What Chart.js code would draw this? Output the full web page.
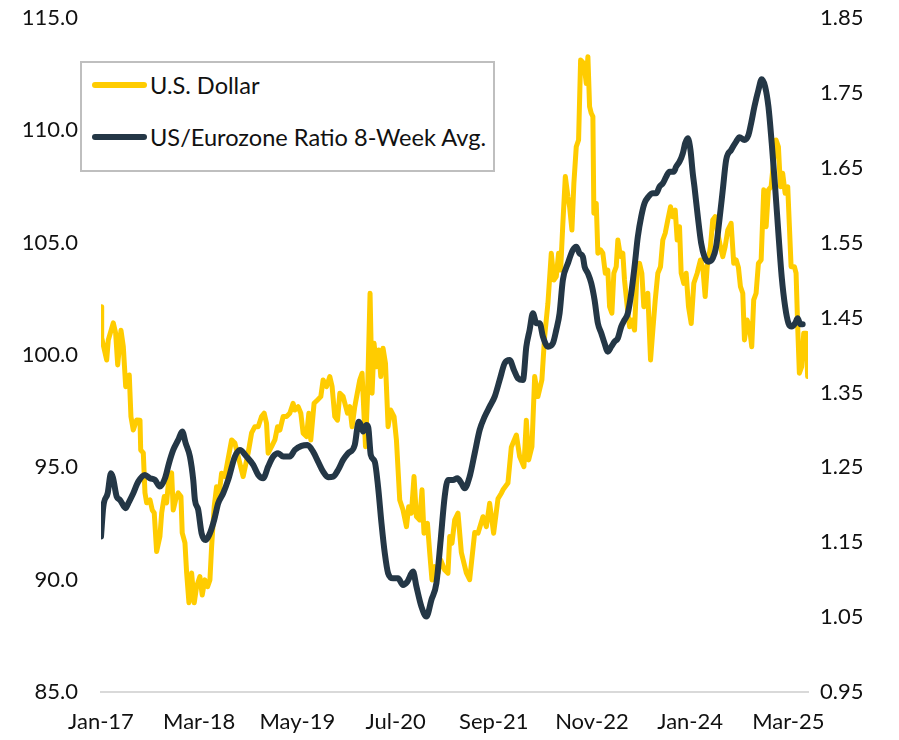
<!DOCTYPE html>
<html><head><meta charset="utf-8">
<script src="https://cdn.jsdelivr.net/npm/chart.js@4.4.1/dist/chart.umd.min.js"></script>
<style>
html,body{margin:0;padding:0;background:#fff;}
#wrap{position:relative;width:899px;height:740px;}
#legend{position:absolute;left:80px;top:61px;width:415px;height:111px;box-sizing:border-box;border:2px solid #bfbfbf;background:#fff;font-family:Lato,sans-serif;font-size:23.6px;color:#111;}
.item{position:absolute;left:10px;height:30px;line-height:30px;display:flex;align-items:center;white-space:nowrap;}
.swatch{width:55px;height:6px;border-radius:3px;margin-right:3px;}
</style></head><body>
<div id="wrap"><canvas id="c" width="899" height="740"></canvas><div id="legend"></div></div>
<script>
// x values are months since Jan 2017
const tickMonths = [0, 14, 28, 42, 56, 70, 84, 98];
const tickLabels = ['Jan-17', 'Mar-18', 'May-19', 'Jul-20', 'Sep-21', 'Nov-22', 'Jan-24', 'Mar-25'];
const leftTicks = [85, 90, 95, 100, 105, 110, 115];
const rightTicks = [0.95, 1.05, 1.15, 1.25, 1.35, 1.45, 1.55, 1.65, 1.75, 1.85];
const seriesNames = ['U.S. Dollar', 'US/Eurozone Ratio 8-Week Avg.'];

const usdMonth = [0.00,0.10,0.81,1.04,1.75,2.09,2.38,2.85,3.18,3.52,4.03,4.27,4.60,5.09,5.56,5.66,6.03,6.27,6.51,6.98,7.31,7.59,7.93,8.40,8.65,9.02,9.36,9.69,10.07,10.30,10.64,11.01,11.40,11.58,11.97,12.21,12.54,12.92,13.29,13.63,14.10,14.43,14.81,15.20,15.53,15.77,16.14,16.48,16.81,17.19,17.66,18.62,19.09,19.56,20.27,20.98,21.47,21.94,22.41,22.89,23.26,23.60,23.83,24.32,24.79,25.17,25.50,25.97,26.45,26.92,27.39,27.64,28.11,28.49,28.82,29.30,29.63,29.91,30.38,30.87,31.34,31.67,32.15,32.62,32.95,33.33,33.72,34.05,34.52,35.14,35.47,35.80,36.18,36.89,37.22,37.71,37.99,38.36,38.65,38.93,39.27,39.60,39.89,40.21,40.56,40.93,41.31,41.78,42.12,42.59,43.06,43.55,43.87,44.26,44.63,44.97,45.44,45.77,46.05,46.54,46.87,47.19,47.58,48.05,48.43,49.00,49.47,49.72,50.04,50.43,50.90,51.38,52.09,52.56,53.28,53.75,54.46,54.94,55.41,55.98,56.60,57.08,57.31,58.02,58.50,58.73,59.22,59.69,60.30,60.64,60.97,61.44,61.83,62.29,62.86,63.25,63.72,64.20,64.57,64.91,65.24,65.53,65.85,66.20,66.57,66.81,67.14,67.42,67.76,68.09,68.38,68.85,69.19,69.42,69.66,69.90,70.13,70.27,70.61,70.84,71.23,71.55,71.90,72.26,72.51,72.84,73.12,73.46,73.69,74.07,74.40,74.64,75.03,75.36,75.68,76.07,76.45,76.78,77.11,77.39,77.68,77.96,78.35,78.68,79.02,79.39,79.77,80.10,80.44,80.81,81.20,81.52,81.87,82.15,82.48,82.72,83.09,83.43,83.76,84.15,84.52,85.00,85.47,85.80,86.14,86.43,86.89,87.22,87.56,87.93,88.32,88.65,88.99,89.36,89.84,90.21,90.56,90.88,91.17,91.50,91.74,92.12,92.45,92.78,93.06,93.40,93.73,94.12,94.49,94.83,95.16,95.54,95.91,96.25,96.58,96.87,97.19,97.54,97.91,98.15,98.39,98.86,99.10,99.33,99.57,99.90,100.19,100.53,100.75];
const usdValue = [102.15,100.76,99.78,100.67,101.43,100.98,99.56,101.10,100.37,98.59,99.11,97.26,96.66,97.11,97.10,95.77,95.64,93.86,93.42,93.55,93.10,92.97,91.25,91.92,92.97,93.70,93.42,94.59,94.75,93.10,93.55,93.86,93.70,92.08,91.64,90.30,88.97,90.30,88.97,89.69,90.14,89.32,89.99,89.69,89.99,91.47,93.25,94.14,93.70,94.74,94.59,96.22,96.08,95.48,94.59,95.64,96.53,96.81,96.81,97.26,97.41,96.96,95.63,95.92,96.22,96.81,96.66,97.26,97.26,97.41,97.85,97.55,97.70,97.41,96.52,96.37,97.41,96.22,97.85,98.00,98.15,98.89,98.59,99.04,98.59,97.26,97.10,98.30,98.15,97.41,97.70,96.81,97.70,98.89,99.19,95.92,98.15,102.75,98.30,100.52,99.48,100.22,99.04,100.30,99.63,96.81,97.55,97.26,96.22,93.55,93.10,92.36,93.25,92.96,94.59,92.81,92.66,94.00,92.07,92.51,91.18,89.99,90.58,90.29,90.88,90.43,90.29,91.92,91.62,92.66,92.96,91.20,90.30,90.00,92.10,92.07,92.80,92.36,93.40,92.07,93.60,93.85,94.00,94.30,95.90,96.07,96.44,95.48,95.03,97.10,95.33,95.92,99.04,98.15,98.89,100.82,102.30,104.53,103.34,103.49,104.53,103.78,105.86,107.94,107.05,106.60,105.56,107.64,109.27,109.57,113.13,112.98,112.09,113.28,111.05,110.76,110.61,106.31,106.75,104.53,104.68,104.53,103.64,103.78,102.15,101.86,103.64,103.93,105.12,104.38,104.53,103.34,102.15,101.26,101.56,101.11,103.93,104.08,103.64,102.15,102.20,102.75,99.78,101.11,102.45,103.64,103.93,105.12,105.42,106.01,106.60,106.16,106.45,105.12,105.71,103.64,103.19,103.64,102.15,101.40,103.19,103.64,104.23,103.90,102.60,103.93,104.82,106.01,106.16,105.42,104.82,104.38,104.82,105.56,105.86,104.08,104.23,103.90,103.04,102.75,100.67,101.56,101.26,100.37,102.45,102.75,104.08,104.23,107.35,105.71,107.35,107.49,108.68,109.57,109.27,107.49,108.09,107.20,107.49,105.71,103.93,103.93,103.64,101.26,99.19,99.48,100.97,100.97,99.04];

const ratioMonth = [0.00,0.33,0.95,1.42,1.71,2.24,2.71,3.52,3.89,4.60,5.31,6.27,6.98,7.69,8.40,9.12,9.69,10.30,11.01,11.58,12.07,12.68,13.15,13.39,13.86,14.34,14.91,15.53,16.14,16.71,17.42,18.13,19.09,19.80,20.75,21.70,22.41,23.12,23.83,24.54,25.26,25.97,26.92,27.64,28.59,29.44,30.24,30.95,31.67,32.38,33.09,33.80,34.52,35.23,36.18,36.57,36.75,37.14,37.36,37.85,38.11,38.46,39.03,39.50,39.99,40.46,40.93,41.64,42.35,43.06,43.69,44.49,44.97,45.68,46.40,47.11,47.82,48.43,49.00,49.47,50.19,50.81,51.38,51.85,52.56,53.28,53.99,54.70,55.41,56.13,56.84,57.55,58.26,58.87,59.44,60.16,60.64,61.11,61.58,62.07,62.54,63.01,63.72,64.43,64.91,65.38,65.85,66.57,67.28,67.76,68.23,68.70,68.95,69.42,69.90,70.37,70.84,71.33,71.79,72.26,72.75,73.22,73.69,74.17,74.64,75.11,75.60,76.07,76.54,77.02,77.49,78.06,78.68,79.16,79.63,80.10,80.58,81.05,81.66,82.00,82.48,82.95,83.29,83.66,84.04,84.37,84.61,85.09,85.57,86.04,86.61,87.22,87.70,88.17,88.65,89.13,89.84,90.56,91.03,91.74,92.31,92.69,93.16,93.73,94.20,94.69,95.16,95.63,96.11,96.58,97.05,97.54,98.01,98.48,98.96,99.33,99.72,100.04];
const ratioValue = [1.1575,1.1975,1.2154,1.2421,1.2360,1.2109,1.2065,1.1954,1.2020,1.2154,1.2309,1.2399,1.2354,1.2332,1.2243,1.2354,1.2554,1.2732,1.2866,1.2977,1.2822,1.2643,1.2332,1.2065,1.1931,1.1620,1.1530,1.1620,1.1798,1.2020,1.2154,1.2332,1.2643,1.2732,1.2643,1.2532,1.2399,1.2354,1.2510,1.2643,1.2688,1.2643,1.2643,1.2732,1.2786,1.2799,1.2710,1.2576,1.2443,1.2368,1.2376,1.2465,1.2599,1.2688,1.2799,1.3043,1.3110,1.3043,1.2977,1.3066,1.3030,1.2666,1.2576,1.2243,1.1754,1.1353,1.1086,1.1019,1.1019,1.0930,1.0974,1.1108,1.0908,1.0640,1.0507,1.0730,1.0952,1.1530,1.2109,1.2332,1.2332,1.2354,1.2288,1.2221,1.2376,1.2688,1.3000,1.3177,1.3310,1.3444,1.3667,1.3890,1.3934,1.3800,1.3689,1.3667,1.4111,1.4334,1.4557,1.4424,1.4424,1.4245,1.4111,1.4157,1.4334,1.4557,1.5002,1.5225,1.5403,1.5447,1.5358,1.5313,1.5180,1.5091,1.4958,1.4735,1.4424,1.4290,1.4157,1.4045,1.4111,1.4178,1.4224,1.4379,1.4468,1.4557,1.4824,1.5180,1.5580,1.5847,1.6026,1.6115,1.6159,1.6159,1.6248,1.6293,1.6381,1.6448,1.6448,1.6515,1.6581,1.6693,1.6827,1.6894,1.6738,1.6426,1.6248,1.5847,1.5492,1.5313,1.5246,1.5291,1.5447,1.5803,1.6204,1.6604,1.6738,1.6849,1.6907,1.6871,1.6938,1.7094,1.7316,1.7539,1.7681,1.7583,1.7316,1.6827,1.6248,1.5625,1.5046,1.4646,1.4424,1.4379,1.4424,1.4490,1.4410,1.4410];

const colors = ['#FFCC00', '#243746'];
const tickFont = {family: 'Lato, sans-serif', size: 22};
const textColor = '#111';

const chart = new Chart(document.getElementById('c'), {
  type: 'line',
  data: {
    datasets: [
      {label: seriesNames[0], data: usdMonth.map((m, i) => ({x: m, y: usdValue[i]})), yAxisID: 'y', borderColor: colors[0], backgroundColor: colors[0], borderWidth: 5, pointRadius: 0, tension: 0, borderJoinStyle: 'round', borderCapStyle: 'round', order: 1},
      {label: seriesNames[1], data: ratioMonth.map((m, i) => ({x: m, y: ratioValue[i]})), yAxisID: 'y1', borderColor: colors[1], backgroundColor: colors[1], borderWidth: 6, pointRadius: 0, cubicInterpolationMode: 'monotone', borderJoinStyle: 'round', borderCapStyle: 'round', order: 0}
    ]
  },
  options: {
    responsive: false, animation: false,
    layout: {padding: {top: 18, left: 0, right: 0, bottom: 0}},
    plugins: {legend: {display: false}, tooltip: {enabled: false}},
    scales: {
      x: {type: 'linear', min: 0, max: 100.8,
        grid: {display: false, drawTicks: false},
        border: {display: true, color: '#d9d9d9', width: 2},
        afterBuildTicks: s => { s.ticks = tickMonths.map(v => ({value: v})); },
        afterFit: s => { s.height = 48; s.paddingLeft = 0; s.paddingRight = 0; },
        ticks: {autoSkip: false, maxRotation: 0, padding: 17, font: tickFont, color: textColor,
          callback: v => tickLabels[tickMonths.indexOf(v)]}
      },
      y: {position: 'left', min: 85, max: 115,
        grid: {display: false, drawTicks: false}, border: {display: false},
        afterBuildTicks: s => { s.ticks = leftTicks.map(v => ({value: v})); },
        afterFit: s => { s.width = 101; s.paddingTop = 0; s.paddingBottom = 0; },
        ticks: {padding: 23, font: tickFont, color: textColor, callback: v => v.toFixed(1)}
      },
      y1: {position: 'right', min: 0.95, max: 1.85,
        grid: {display: false, drawTicks: false}, border: {display: false},
        afterBuildTicks: s => { s.ticks = rightTicks.map(v => ({value: v})); },
        afterFit: s => { s.width = 91; s.paddingTop = 0; s.paddingBottom = 0; },
        ticks: {padding: 12, font: tickFont, color: textColor, callback: v => v.toFixed(2)}
      }
    }
  }
});

// HTML legend from the chart's datasets
const legend = document.getElementById('legend');
const itemTops = [7, 59];
chart.data.datasets.forEach((ds, i) => {
  const it = document.createElement('div');
  it.className = 'item';
  it.style.top = itemTops[i] + 'px';
  const sw = document.createElement('span');
  sw.className = 'swatch';
  sw.style.background = ds.borderColor;
  const tx = document.createElement('span');
  tx.textContent = ds.label;
  it.appendChild(sw); it.appendChild(tx);
  legend.appendChild(it);
});
</script>
</body></html>
